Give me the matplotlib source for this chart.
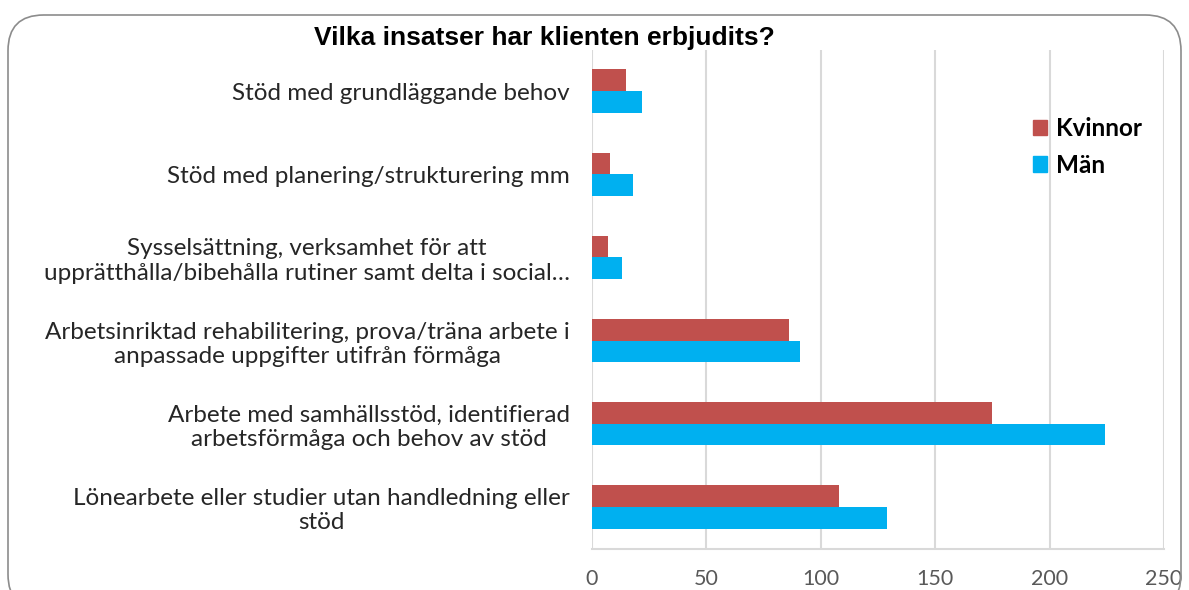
import matplotlib
matplotlib.use("Agg")
import matplotlib.pyplot as plt
from matplotlib.patches import FancyBboxPatch, Patch
import numpy as np

categories = [
    "Stöd med grundläggande behov",
    "Stöd med planering/strukturering mm",
    "Sysselsättning, verksamhet för att\nupprätthålla/bibehålla rutiner samt delta i social…",
    "Arbetsinriktad rehabilitering, prova/träna arbete i\nanpassade uppgifter utifrån förmåga",
    "Arbete med samhällsstöd, identifierad\narbetsförmåga och behov av stöd",
    "Lönearbete eller studier utan handledning eller\nstöd",
]
kvinnor = [15, 8, 7, 86, 175, 108]
man = [22, 18, 13, 91, 224, 129]
xticks = [0, 50, 100, 150, 200, 250]
title = "Vilka insatser har klienten erbjudits?"

W, H = 1189, 590
fig = plt.figure(figsize=(W / 100, H / 100), dpi=100)

# rounded border
border = FancyBboxPatch((8 / W, -20 / H), (1173) / W, (H - 15 + 20) / H,
                        boxstyle="round,pad=0,rounding_size=0.03",
                        transform=fig.transFigure, fill=False,
                        edgecolor="#8c8c8c", linewidth=1.2,
                        mutation_aspect=W / H)
fig.patches.append(border)

ax = fig.add_axes([592 / W, 1 - 548.5 / H, 572 / W, 499 / H])

y = np.arange(len(categories))
h = 0.26
ax.barh(y - h / 2, kvinnor, height=h, color="#C0504D", label="Kvinnor", zorder=3)
ax.barh(y + h / 2, man, height=h, color="#00B0F0", label="Män", zorder=3)
ax.set_ylim(len(categories) - 0.5, -0.5)
ax.set_xlim(0, 250)
ax.set_xticks(xticks)
ax.set_yticks(y)
ax.set_yticklabels(categories, fontfamily="Lato", fontsize=17.5, color="#262626",
                   multialignment="center")
ax.tick_params(axis="y", length=0, pad=16)
ax.tick_params(axis="x", length=0, pad=15, labelsize=15.5, labelcolor="#595959")
for lab in ax.get_xticklabels():
    lab.set_fontfamily("Lato")
ax.grid(axis="x", color="#d9d9d9", linewidth=1.5, zorder=0)
for s in ["top", "right", "left"]:
    ax.spines[s].set_visible(False)
ax.spines["bottom"].set_color("#d9d9d9")
ax.spines["bottom"].set_linewidth(1.5)

fig.text(544 / W, 1 - 38 / H, title, ha="center", va="center",
         fontfamily="Liberation Sans", fontweight="bold", fontsize=19, color="black")

handles = [Patch(color="#C0504D", label="Kvinnor"), Patch(color="#00B0F0", label="Män")]
leg = fig.legend(handles=handles, loc="center left",
                 bbox_to_anchor=(1011 / W, 1 - 147 / H), frameon=False,
                 prop={"family": "Lato", "weight": "bold", "size": 17.5},
                 handlelength=0.6, handleheight=0.6, handletextpad=0.35,
                 labelspacing=0.55)

fig.savefig("out.png", dpi=100)
